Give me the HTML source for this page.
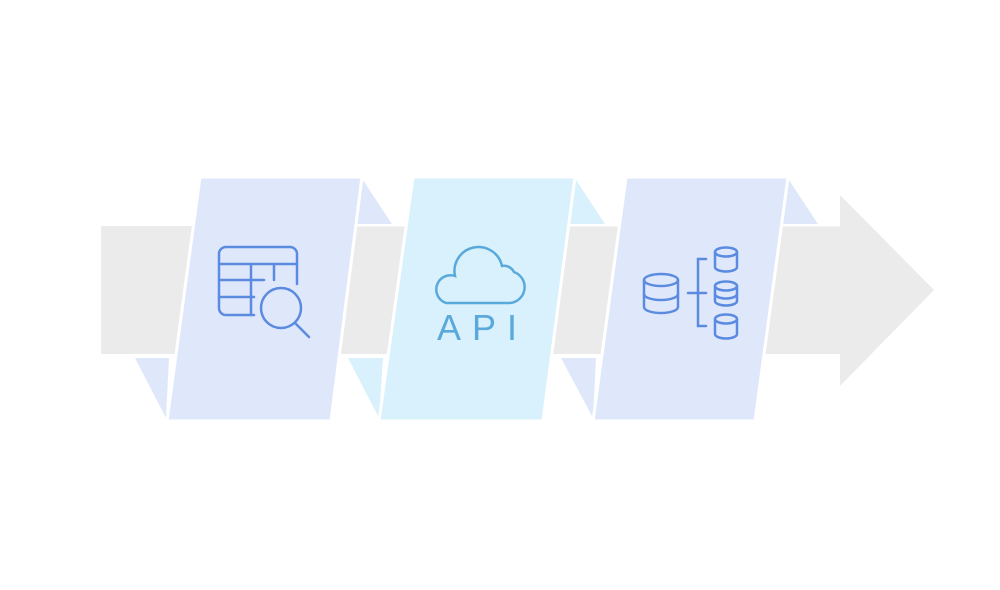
<!DOCTYPE html>
<html><head><style>html,body{margin:0;padding:0;background:#fff}</style></head>
<body>
<svg width="1000" height="585" viewBox="0 0 1000 585" xmlns="http://www.w3.org/2000/svg">
<rect width="1000" height="585" fill="#fff"/>
<polygon points="101,226 840,226 840,195 934,290 840,386 840,354 101,354" fill="#ebebeb"/>
<g stroke="#fff" stroke-width="3">
<line x1="340" y1="225" x2="410" y2="225"/><line x1="335" y1="356" x2="390" y2="356"/>
<line x1="555" y1="225" x2="622" y2="225"/><line x1="548" y1="356" x2="600" y2="356"/>
<line x1="770" y1="225" x2="840" y2="225"/><line x1="760" y1="356" x2="840" y2="356"/>
</g>
<polygon points="363,180 392,224 357,224" fill="#dfe8fb"/>
<polygon points="135,358 169,358 166,418" fill="#dfe8fb"/>
<polygon points="576,180 605,224 570,224" fill="#d8f1fd"/>
<polygon points="348,358 383,358 379,418" fill="#d8f1fd"/>
<polygon points="789,180 818,224 783,224" fill="#dfe8fb"/>
<polygon points="561,358 596,358 593,418" fill="#dfe8fb"/>
<g stroke="#fff" stroke-width="3">
<polygon points="200,177 362,177 331,421 167,421" fill="#dfe8fb"/>
<polygon points="413,177 575,177 543,421 379,421" fill="#d8f1fd"/>
<polygon points="626,177 788,177 755,421 593,421" fill="#dfe8fb"/>
</g>
<g fill="none" stroke="#5b8be0" stroke-width="2.5" stroke-linecap="round">
<path d="M297,284 V254 a7,7 0 0 0 -7,-7 H226 a7,7 0 0 0 -7,7 V308 a7,7 0 0 0 7,7 H254"/>
<line x1="219" y1="264" x2="297" y2="264"/>
<line x1="219" y1="280" x2="264" y2="280"/>
<line x1="219" y1="297" x2="254" y2="297"/>
<line x1="251" y1="264" x2="251" y2="315"/>
<line x1="274" y1="264" x2="274" y2="280"/>
<circle cx="281" cy="308" r="20"/>
<line x1="295" y1="323" x2="309" y2="337"/>
</g>
<g fill="none" stroke="#5aa9db" stroke-width="2.5" stroke-linecap="round">
<path d="M446,303 H510 a16,16 0 0 0 4,-31 a11,11 0 0 0 -12,-6 a24,24 0 0 0 -47,10 a14,14 0 0 0 -9,27 z"/>
</g>
<text x="437" y="340" font-family="Liberation Sans, sans-serif" font-size="36" fill="#5aa9db" textLength="80" lengthAdjust="spacing">API</text>
<g fill="none" stroke="#5b8be0" stroke-width="2.5" stroke-linecap="round">
<ellipse cx="661" cy="280" rx="17" ry="6"/>
<path d="M644,280 V307 a17,6 0 0 0 34,0 V280"/>
<path d="M644,294 a17,6 0 0 0 34,0"/>
<line x1="688" y1="293" x2="706" y2="293"/>
<path d="M706,259 H698 V326 H706"/>
<ellipse cx="726" cy="252" rx="11" ry="4.5"/><path d="M715,252 V267 a11,4.5 0 0 0 22,0 V252"/>
<ellipse cx="726" cy="286" rx="11" ry="4.5"/><path d="M715,286 V301 a11,4.5 0 0 0 22,0 V286"/>
<path d="M715,294 a11,4.5 0 0 0 22,0"/>
<ellipse cx="726" cy="319" rx="11" ry="4.5"/><path d="M715,319 V334 a11,4.5 0 0 0 22,0 V319"/>
</g>
</svg>
</body></html>
